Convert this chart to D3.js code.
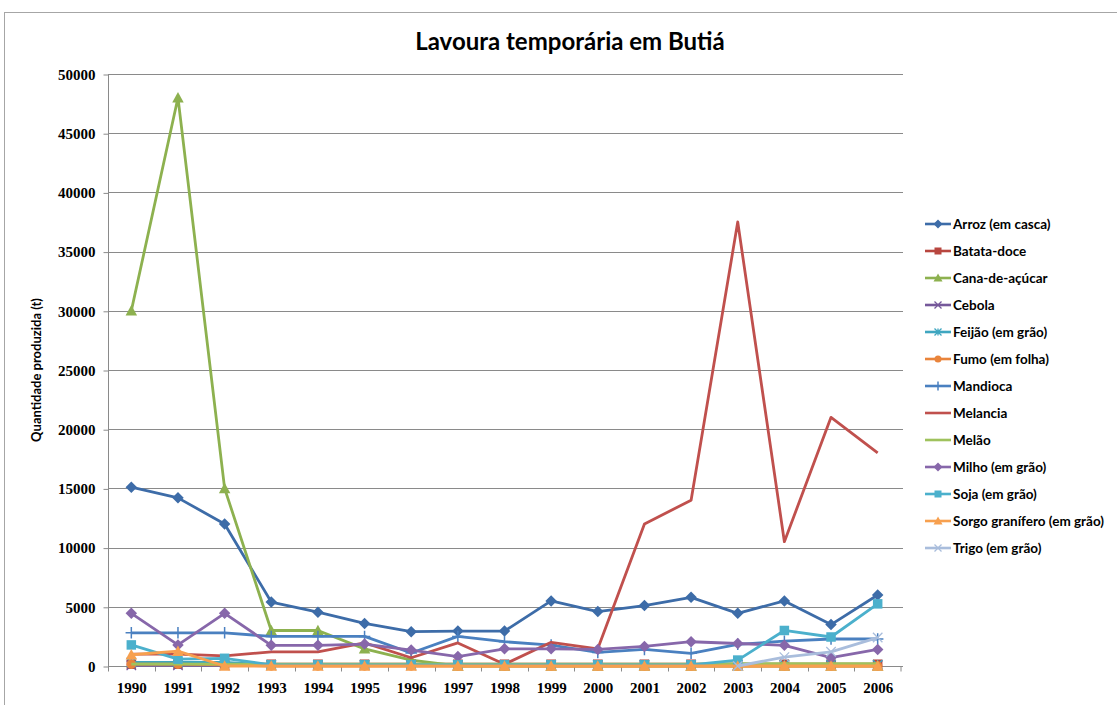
<html>
<head>
<style type="text/css">
	body { margin: 0; background: white; }
	.chart text { fill: black; }
	.grid line { stroke: #8a8a8a; stroke-width: 1; }
	.tick-label { font-family: "Liberation Serif", "DejaVu Serif", serif; font-weight: bold; font-size: 15px; }
	.legend text { font-family: Lato, "Open Sans", sans-serif; font-weight: bold; font-size: 13.5px; }
</style>
</head>
<body>
<svg class="chart" width=1117 height=705></svg>
<script src='https://d3js.org/d3.v7.min.js'></script>
<script>
// categories
var years = [1990, 1991, 1992, 1993, 1994, 1995, 1996, 1997, 1998, 1999, 2000, 2001, 2002, 2003, 2004, 2005, 2006];

// series values (t)
var arroz     = [15100, 14200, 12000, 5400, 4550, 3600, 2900, 2950, 2950, 5500, 4600, 5100, 5800, 4450, 5500, 3500, 6000];
var batata    = [150, 150, 150, 150, 150, 150, 150, 150, 150, 150, 150, 150, 150, 150, 150, 150, 150];
var cana      = [30000, 48000, 15000, 3000, 3000, 1450, 500, 0, 0, 0, 0, 0, 0, 0, 0, 0, 0];
var cebola    = [50, 50, 50, 50, 50, 50, 50, 50, 50, 50, 50, 50, 50, 50, 50, 50, 50];
var feijao    = [300, 300, 300, 100, 100, 100, 100, 100, 100, 100, 100, 100, 100, 100, 100, 100, 100];
var fumo      = [150, 150, 100, 0, 0, 0, 0, 0, 0, 0, 0, 0, 0, 0, 0, 0, 0];
var mandioca  = [2800, 2800, 2800, 2500, 2500, 2500, 1100, 2500, 2050, 1770, 1150, 1400, 1070, 1830, 2100, 2280, 2280];
var melancia  = [1000, 1000, 850, 1200, 1200, 1950, 700, 1950, 150, 2000, 1450, 12000, 14000, 37500, 10500, 21000, 18000];
var melao     = [150, 150, 150, 150, 150, 150, 150, 150, 150, 150, 150, 150, 150, 200, 200, 200, 200];
var milho     = [4450, 1780, 4450, 1750, 1750, 1850, 1350, 800, 1450, 1450, 1400, 1650, 2050, 1900, 1750, 700, 1400];
var soja      = [1780, 580, 650, 100, 100, 100, 100, 100, 100, 100, 100, 100, 100, 500, 3000, 2450, 5250];
var sorgo     = [950, 1250, 0, 0, 0, 0, 0, 0, 0, 0, 0, 0, 0, 0, 0, 0, 0];
var trigo     = [null, null, null, null, null, null, null, null, null, null, null, null, null, 0, 750, 1200, 2400];

var seriesNames = ["Arroz (em casca)", "Batata-doce", "Cana-de-açúcar", "Cebola", "Feijão (em grão)", "Fumo (em folha)",
	"Mandioca", "Melancia", "Melão", "Milho (em grão)", "Soja (em grão)", "Sorgo granífero (em grão)", "Trigo (em grão)"];
var seriesValues = [arroz, batata, cana, cebola, feijao, fumo, mandioca, melancia, melao, milho, soja, sorgo, trigo];
var seriesColors = ["#3d6ca8", "#b8463f", "#8db14f", "#75589a", "#3fa6c0", "#e9843b",
	"#4a80c0", "#c0504d", "#9fc25d", "#8767aa", "#4bb0cc", "#f7a04f", "#a9bddc"];
var seriesMarkers = ["diamond", "square", "triangle", "x", "star", "circle",
	"plus", "none", "none", "diamond", "square", "triangle", "x"];

var yTicks = [0, 5000, 10000, 15000, 20000, 25000, 30000, 35000, 40000, 45000, 50000];

var svg = d3.select("svg");

//Define Scales
var xScale = d3.scalePoint()
	.domain(years)
	.range([108, 901])
	.padding(0.5);

var xBand = d3.scaleBand()
	.domain(years)
	.range([108, 901]);

var yScale = d3.scaleLinear()
	.domain([0, 50000])
	.range([666, 74]);

//Outer frame
svg.append("rect")
	.attr("x", 4.5)
	.attr("y", 12.5)
	.attr("width", 1200)
	.attr("height", 800)
	.style("fill", "none")
	.style("stroke", "#a6a6a6");

//Title
svg.append("text")
	.attr("x", 570)
	.attr("y", 50)
	.style("text-anchor", "middle")
	.style("font-family", "Lato, 'Open Sans', sans-serif")
	.style("font-weight", "bold")
	.style("font-size", "24px")
	.text("Lavoura temporária em Butiá");

//Gridlines
svg.append("g")
	.attr("class", "grid")
	.selectAll("line")
	.data(yTicks.filter(function(d) { return d > 0; }))
	.enter()
	.append("line")
	.attr("x1", 108)
	.attr("x2", 903)
	.attr("y1", function(d) { return Math.round(yScale(d)) + 0.5; })
	.attr("y2", function(d) { return Math.round(yScale(d)) + 0.5; });

//Add Axes
var yAxis = svg.append("g")
	.attr("transform", "translate(108.5,0.5)")
	.call(d3.axisLeft(yScale)
		.tickValues(yTicks)
		.tickSize(5)
		.tickPadding(8)
		.tickFormat(d3.format("d")));
yAxis.select(".domain").attr("stroke", "#8a8a8a").attr("d", "M0," + yScale(0) + "V" + yScale(50000));
yAxis.selectAll(".tick line").attr("stroke", "#8a8a8a");
yAxis.selectAll(".tick text").attr("class", "tick-label");

var xAxis = svg.append("g")
	.attr("transform", "translate(0,666.5)")
	.call(d3.axisBottom(xScale)
		.tickSize(0)
		.tickPadding(16));
xAxis.select(".domain").attr("stroke", "#8a8a8a").attr("d", "M108,0H903");
xAxis.selectAll(".tick text").attr("class", "tick-label");

//Boundary ticks between categories
xAxis.selectAll(".bound")
	.data(years.concat(["end"]))
	.enter()
	.append("line")
	.attr("class", "bound")
	.attr("x1", function(d) { return d == "end" ? xBand.range()[1] : Math.round(xBand(d)) + 0.5; })
	.attr("x2", function(d) { return d == "end" ? xBand.range()[1] : Math.round(xBand(d)) + 0.5; })
	.attr("y1", 0)
	.attr("y2", 5)
	.attr("stroke", "#8a8a8a");

//Y axis label
svg.append("text")
	.attr("transform", "translate(41,370) rotate(-90)")
	.style("text-anchor", "middle")
	.style("font-family", "Lato, 'Open Sans', sans-serif")
	.style("font-weight", "bold")
	.style("font-size", "13px")
	.text("Quantidade produzida (t)");

//Marker drawing helper
function drawMarker(g, type, color, size) {
	var s = size / 2;
	if (type == "diamond") {
		g.append("path").attr("d", "M0," + (-s - 1) + "L" + (s + 1) + ",0L0," + (s + 1) + "L" + (-s - 1) + ",0Z").style("fill", color);
	} else if (type == "square") {
		g.append("rect").attr("x", -s).attr("y", -s).attr("width", size).attr("height", size).style("fill", color);
	} else if (type == "triangle") {
		g.append("path").attr("d", "M0," + (-s - 1) + "L" + (s + 1) + "," + s + "L" + (-s - 1) + "," + s + "Z").style("fill", color);
	} else if (type == "circle") {
		g.append("circle").attr("r", s).style("fill", color);
	} else if (type == "x") {
		g.append("path").attr("d", "M" + (-s) + "," + (-s) + "L" + s + "," + s + "M" + (-s) + "," + s + "L" + s + "," + (-s))
			.style("stroke", color).style("stroke-width", 1.3);
	} else if (type == "star") {
		g.append("path").attr("d", "M" + (-s) + "," + (-s) + "L" + s + "," + s + "M" + (-s) + "," + s + "L" + s + "," + (-s) + "M0," + (-s) + "V" + s)
			.style("stroke", color).style("stroke-width", 1.3);
	} else if (type == "plus") {
		g.append("path").attr("d", "M0," + (-s - 1) + "V" + (s + 1) + "M" + (-s - 1) + ",0H" + (s + 1))
			.style("stroke", color).style("stroke-width", 1.5);
	}
}

//Plot series
var line = d3.line()
	.defined(function(d) { return d.value != null; })
	.x(function(d) { return xScale(d.year); })
	.y(function(d) { return yScale(d.value); });

var plot = svg.append("g").attr("id", "plot");

seriesNames.forEach(function(name, i) {
	var pts = years.map(function(y, j) { return {year: y, value: seriesValues[i][j]}; });
	var g = plot.append("g");
	g.append("path")
		.datum(pts)
		.attr("d", line)
		.style("fill", "none")
		.style("stroke", seriesColors[i])
		.style("stroke-width", 2.8)
		.style("stroke-linejoin", "round");
	if (seriesMarkers[i] != "none") {
		pts.filter(function(d) { return d.value != null; }).forEach(function(d) {
			var m = g.append("g").attr("transform", "translate(" + xScale(d.year) + "," + yScale(d.value) + ")");
			drawMarker(m, seriesMarkers[i], seriesColors[i], 9.5);
		});
	}
});

//Legend
var legend = svg.append("g").attr("class", "legend");
seriesNames.forEach(function(name, i) {
	var ly = 224 + i * 27.0;
	var lg = legend.append("g").attr("transform", "translate(925," + ly + ")");
	lg.append("line")
		.attr("x1", 0).attr("x2", 26)
		.attr("y1", 0).attr("y2", 0)
		.style("stroke", seriesColors[i])
		.style("stroke-width", 2.6);
	if (seriesMarkers[i] != "none") {
		var m = lg.append("g").attr("transform", "translate(13,0)");
		drawMarker(m, seriesMarkers[i], seriesColors[i], 7);
	}
	lg.append("text")
		.attr("x", 28)
		.attr("y", 4.5)
		.text(name);
});
</script>
</body>
</html>
